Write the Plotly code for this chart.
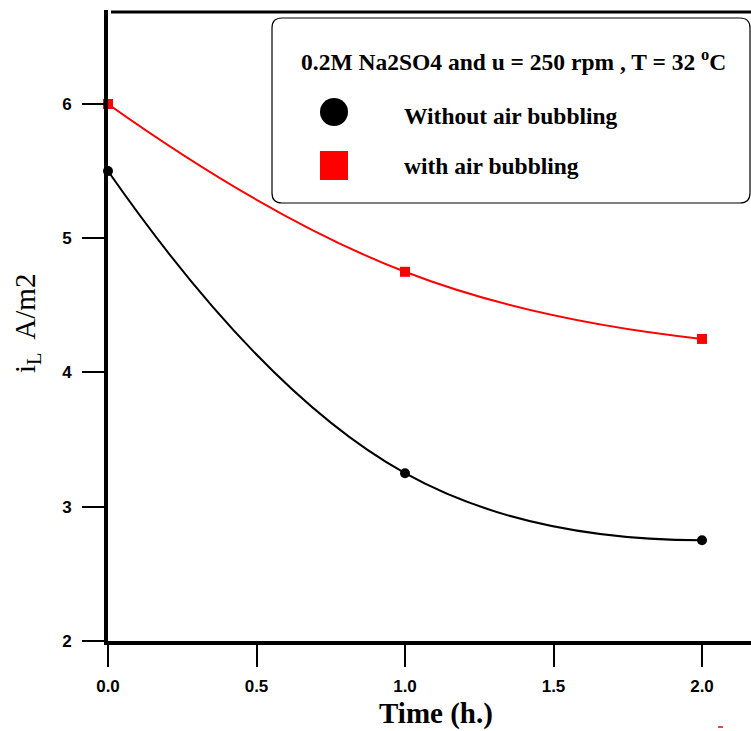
import plotly.graph_objects as go

# Limiting current density vs time
time_h = [0.0, 1.0, 2.0]
without_air = [5.5, 3.25, 2.75]
with_air = [6.0, 4.75, 4.25]

x_ticks = [0.0, 0.5, 1.0, 1.5, 2.0]
x_tick_text = ["0.0", "0.5", "1.0", "1.5", "2.0"]
y_ticks = [2, 3, 4, 5, 6]

W, H = 751, 731
L, R, T, B = 108, 0, 10, 90
PW, PH = W - L - R, H - T - B


def px(x):
    return (x - L) / PW


def py(y):
    return (H - B - y) / PH


fig = go.Figure()

fig.add_trace(go.Scatter(
    x=time_h, y=without_air, mode="lines+markers",
    line=dict(color="black", width=2, shape="spline", smoothing=1.3),
    marker=dict(symbol="circle", size=10, color="black"),
    showlegend=False, cliponaxis=False,
))
fig.add_trace(go.Scatter(
    x=time_h, y=with_air, mode="lines+markers",
    line=dict(color="#ff0000", width=2, shape="spline", smoothing=1.3),
    marker=dict(symbol="square", size=10, color="#ff0000"),
    showlegend=False, cliponaxis=False,
))

tick_font = dict(family="Liberation Sans", size=17, color="black", weight="bold")

fig.update_xaxes(
    range=[0, 2.165], showgrid=False, zeroline=False,
    showline=True, linecolor="black", linewidth=4,
    ticks="outside", ticklen=22, tickwidth=2, tickcolor="black",
    tickvals=x_ticks, ticktext=x_tick_text,
    tickfont=tick_font, ticklabelstandoff=5,
)
fig.update_yaxes(
    range=[2, 6.70], showgrid=False, zeroline=False,
    showline=True, linecolor="black", linewidth=4,
    ticks="outside", ticklen=22, tickwidth=2, tickcolor="black",
    tickvals=y_ticks, ticktext=[str(v) for v in y_ticks],
    tickfont=tick_font, ticklabelstandoff=7,
)

# Rounded legend frame
x0, x1, y0, y1 = px(272), px(750), py(203), py(18)
rx, ry = 10 / PW, 10 / PH
path = (f"M {x0+rx},{y1} L {x1-rx},{y1} Q {x1},{y1} {x1},{y1-ry} "
        f"L {x1},{y0+ry} Q {x1},{y0} {x1-rx},{y0} "
        f"L {x0+rx},{y0} Q {x0},{y0} {x0},{y0+ry} "
        f"L {x0},{y1-ry} Q {x0},{y1} {x0+rx},{y1} Z")

shapes = [
    # top frame line (detached from the left axis)
    dict(type="line", xref="paper", yref="paper",
         x0=px(111), x1=1.0, y0=py(12), y1=py(12),
         line=dict(color="black", width=3)),
    dict(type="path", xref="paper", yref="paper", path=path,
         line=dict(color="black", width=1.2), fillcolor="white"),
    # legend symbols
    dict(type="circle", xref="paper", yref="paper",
         x0=px(320), x1=px(348), y0=py(126), y1=py(98),
         fillcolor="black", line=dict(width=0)),
    dict(type="rect", xref="paper", yref="paper",
         x0=px(320), x1=px(348), y0=py(180), y1=py(151),
         fillcolor="#ff0000", line=dict(width=0)),
    # small red dash near the bottom edge
    dict(type="line", xref="paper", yref="paper",
         x0=px(718), x1=px(723), y0=py(727), y1=py(727),
         line=dict(color="#ff0000", width=1.5)),
]

serif = "Liberation Serif"
annotations = [
    dict(xref="paper", yref="paper", x=px(513), y=py(60),
         text="<b>0.2M Na2SO4 and u = 250 rpm , T = 32 <sup>o</sup>C</b>",
         showarrow=False, xanchor="center", yanchor="middle",
         font=dict(family=serif, size=23.5, color="black")),
    dict(xref="paper", yref="paper", x=px(402), y=py(116),
         text="<b>Without air bubbling</b>", showarrow=False,
         xanchor="left", yanchor="middle",
         font=dict(family=serif, size=23.5, color="black")),
    dict(xref="paper", yref="paper", x=px(402), y=py(166),
         text="<b>with air bubbling</b>", showarrow=False,
         xanchor="left", yanchor="middle",
         font=dict(family=serif, size=23.5, color="black")),
    dict(xref="paper", yref="paper", x=px(436), y=py(713),
         text="<b>Time (h.)</b>", showarrow=False,
         xanchor="center", yanchor="middle",
         font=dict(family=serif, size=29, color="black")),
    dict(xref="paper", yref="paper", x=px(27), y=py(324),
         text="i<sub>L</sub>  A/m2", showarrow=False, textangle=-90,
         xanchor="center", yanchor="middle",
         font=dict(family=serif, size=29, color="black")),
]

fig.update_layout(
    width=W, height=H,
    margin=dict(l=L, r=R, t=T, b=B),
    paper_bgcolor="white", plot_bgcolor="white",
    shapes=shapes, annotations=annotations,
)

fig.write_html("out.html")
